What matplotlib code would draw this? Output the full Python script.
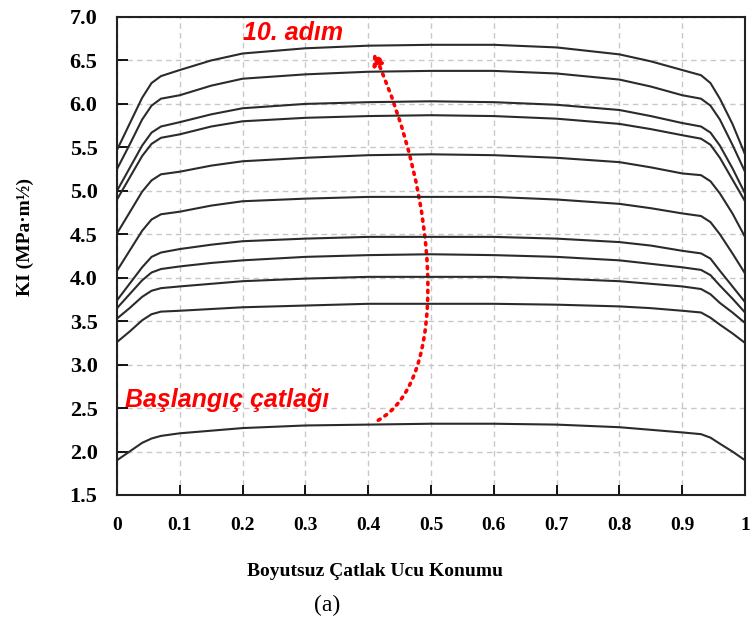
import matplotlib
matplotlib.use("Agg")
import matplotlib.pyplot as plt
from matplotlib.patches import FancyArrowPatch
from matplotlib.path import Path

# positions along the crack front
x_pos = [0, 0.02, 0.04, 0.055, 0.07, 0.1, 0.15, 0.2, 0.3, 0.4, 0.5,
         0.6, 0.7, 0.8, 0.85, 0.9, 0.93, 0.945, 0.96, 0.98, 1.0]

# KI for each propagation step, top (10. adim) to bottom (initial crack)
ki_step10 = [5.47, 5.77, 6.07, 6.24, 6.32, 6.39, 6.50, 6.58, 6.64, 6.67, 6.68,
             6.68, 6.65, 6.57, 6.49, 6.39, 6.33, 6.24, 6.06, 5.77, 5.42]
ki_step9 = [5.25, 5.53, 5.82, 5.98, 6.06, 6.10, 6.21, 6.29, 6.34, 6.37, 6.38,
            6.38, 6.35, 6.28, 6.20, 6.10, 6.06, 5.98, 5.82, 5.53, 5.22]
ki_step8 = [5.00, 5.26, 5.52, 5.67, 5.74, 5.79, 5.88, 5.95, 6.00, 6.02, 6.03,
            6.02, 5.99, 5.93, 5.86, 5.78, 5.74, 5.67, 5.52, 5.26, 4.97]
ki_step7 = [4.90, 5.15, 5.40, 5.54, 5.61, 5.65, 5.74, 5.80, 5.84, 5.86, 5.87,
            5.86, 5.83, 5.77, 5.71, 5.64, 5.60, 5.53, 5.38, 5.13, 4.88]
ki_step6 = [4.51, 4.75, 4.99, 5.12, 5.19, 5.22, 5.29, 5.34, 5.38, 5.41, 5.42,
            5.41, 5.38, 5.33, 5.27, 5.20, 5.18, 5.11, 4.97, 4.74, 4.47]
ki_step5 = [4.08, 4.31, 4.54, 4.67, 4.73, 4.76, 4.83, 4.88, 4.91, 4.93, 4.93,
            4.93, 4.90, 4.85, 4.80, 4.74, 4.71, 4.64, 4.50, 4.28, 4.05]
ki_step4 = [3.74, 3.93, 4.12, 4.24, 4.29, 4.33, 4.38, 4.42, 4.45, 4.47, 4.47,
            4.47, 4.45, 4.41, 4.37, 4.31, 4.28, 4.22, 4.08, 3.90, 3.72]
ki_step3 = [3.65, 3.81, 3.97, 4.06, 4.10, 4.13, 4.17, 4.20, 4.24, 4.26, 4.27,
            4.26, 4.24, 4.20, 4.16, 4.12, 4.09, 4.03, 3.91, 3.76, 3.60]
ki_step2 = [3.53, 3.65, 3.78, 3.85, 3.88, 3.90, 3.93, 3.96, 3.99, 4.01, 4.01,
            4.01, 3.99, 3.96, 3.93, 3.90, 3.87, 3.81, 3.71, 3.60, 3.48]
ki_step1 = [3.26, 3.38, 3.51, 3.58, 3.61, 3.62, 3.64, 3.66, 3.68, 3.70, 3.70,
            3.70, 3.69, 3.67, 3.65, 3.62, 3.60, 3.54, 3.46, 3.36, 3.25]
ki_initial = [1.90, 2.00, 2.10, 2.15, 2.18, 2.21, 2.24, 2.27, 2.30, 2.31, 2.32,
              2.32, 2.31, 2.28, 2.25, 2.22, 2.20, 2.16, 2.09, 2.00, 1.90]

curves = [ki_step10, ki_step9, ki_step8, ki_step7, ki_step6, ki_step5,
          ki_step4, ki_step3, ki_step2, ki_step1, ki_initial]

x_ticks = [0, 0.1, 0.2, 0.3, 0.4, 0.5, 0.6, 0.7, 0.8, 0.9, 1.0]
x_labels = ["0", "0.1", "0.2", "0.3", "0.4", "0.5", "0.6", "0.7", "0.8", "0.9", "1"]
y_ticks = [1.5, 2.0, 2.5, 3.0, 3.5, 4.0, 4.5, 5.0, 5.5, 6.0, 6.5, 7.0]

# red dotted arrow (bezier: start, two controls, tip)
arrow_pts = [(0.416, 2.36), (0.530, 2.82), (0.514, 4.89), (0.408, 6.60)]

serif = "Liberation Serif"
sans = "Liberation Sans"

fig = plt.figure(figsize=(7.52, 6.28), dpi=100)
ax = fig.add_axes([117/752., 1 - 495/628., 628/752., 478/628.])

for yy in curves:
  ax.plot(x_pos, yy, color="#2b2b2b", linewidth=1.5, solid_joinstyle="round")

ax.set_xlim(0, 1)
ax.set_ylim(1.5, 7.0)
ax.set_xticks(x_ticks)
ax.set_xticklabels(x_labels, fontfamily=serif, fontweight="bold", fontsize=14)
ax.set_yticks(y_ticks)
ax.set_yticklabels(["%.1f" % v for v in y_ticks], fontfamily=serif,
                   fontweight="bold", fontsize=16)
ax.tick_params(axis="y", direction="in", length=8, width=1.3, pad=14)
ax.tick_params(axis="x", direction="in", length=7, width=1.3, pad=16)
ax.grid(True, color="#c8c8c8", linestyle=(0, (4, 3)), linewidth=1.0)
ax.set_axisbelow(True)
for s in ax.spines.values():
  s.set_linewidth(1.5)
  s.set_color("#222222")

path = Path(arrow_pts, [Path.MOVETO, Path.CURVE4, Path.CURVE4, Path.CURVE4])
arr = FancyArrowPatch(path=path, arrowstyle="-|>", mutation_scale=18,
                      color="red", linewidth=2.6, linestyle=(0, (0.6, 1.6)))
ax.add_patch(arr)

ax.text(0.20, 6.82, "10. adım", color="red", fontfamily=sans,
        fontweight="bold", fontstyle="italic", fontsize=18, va="center")
ax.text(0.013, 2.59, "Başlangıç çatlağı", color="red", fontfamily=sans,
        fontweight="bold", fontstyle="italic", fontsize=18, va="center")

fig.text(25/752., 1 - 237/628., "KI (MPa·m½)", rotation=90, ha="center",
         va="center", fontfamily=serif, fontweight="bold", fontsize=14)
fig.text(375/752., 1 - 572/628., "Boyutsuz Çatlak Ucu Konumu", ha="center",
         va="center", fontfamily=serif, fontweight="bold", fontsize=14)
fig.text(327/752., 1 - 605/628., "(a)", ha="center", va="center",
         fontfamily=serif, fontsize=17)

fig.savefig("out.png", dpi=100)
